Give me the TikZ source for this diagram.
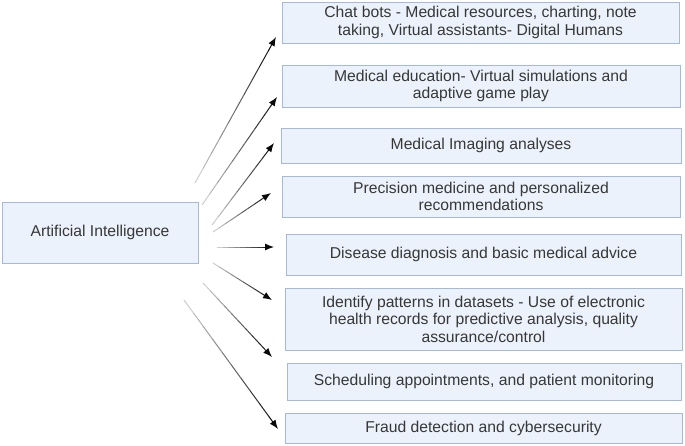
\documentclass[tikz,border=0pt]{standalone}
\usepackage{fontspec}
\setmainfont{Liberation Sans}
\usetikzlibrary{arrows.meta,calc}
\definecolor{boxfill}{RGB}{236,242,251}
\definecolor{boxline}{RGB}{165,185,222}
\definecolor{txt}{RGB}{55,55,55}
\tikzset{
  itembox/.style={draw=boxline, fill=boxfill, line width=1pt, inner sep=2pt,
    align=center, text=txt, font=\fontsize{15.7}{17.5}\selectfont, anchor=center},
}
\newcommand{\gradarrow}[2]{%
  \foreach \i in {0,...,9}{%
    \pgfmathsetmacro{\shade}{20+\i*8.5}%
    \pgfmathsetmacro{\nx}{(\i+1)/10}%
    \ifnum\i<9
      \draw[line width=1pt, draw=black!\shade] ($(#1)!\i/10!(#2)$) -- ($(#1)!\nx!(#2)$);
    \else
      \draw[line width=1pt, draw=black!\shade, -{Latex[length=9pt,width=7pt]}] ($(#1)!\i/10!(#2)$) -- (#2);
    \fi
  }%
}
\begin{document}
\begin{tikzpicture}[x=1pt,y=-1pt]
\useasboundingbox (0,0) rectangle (685,445);
\node[itembox, minimum width=196pt, minimum height=61pt] (ai) at (100,232.5) {Artificial Intelligence};
\node[itembox, minimum width=397pt, minimum height=41pt] (b1) at (480.5,22.5) {Chat bots - Medical resources, charting, note\\taking, Virtual assistants- Digital Humans};
\node[itembox, minimum width=398pt, minimum height=42pt] (b2) at (481,86) {Medical education- Virtual simulations and\\adaptive game play};
\node[itembox, minimum width=400pt, minimum height=35pt] (b3) at (481,145.5) {Medical Imaging analyses};
\node[itembox, minimum width=398pt, minimum height=41pt] (b4) at (481,196.5) {Precision medicine and personalized\\recommendations};
\node[itembox, minimum width=395pt, minimum height=41pt] (b5) at (483.5,254.5) {Disease diagnosis and basic medical advice};
\node[itembox, minimum width=397pt, minimum height=62pt] (b6) at (483.5,319) {Identify patterns in datasets - Use of electronic\\health records for predictive analysis, quality\\assurance/control};
\node[itembox, minimum width=394pt, minimum height=37pt] (b7) at (484,381.5) {Scheduling appointments, and patient monitoring};
\node[itembox, minimum width=397pt, minimum height=30pt] (b8) at (483.5,428) {Fraud detection and cybersecurity};

\coordinate (s1) at (195,183); \coordinate (t1) at (276,37);
\coordinate (s2) at (202,205); \coordinate (t2) at (277,97);
\coordinate (s3) at (212,225); \coordinate (t3) at (274,143);
\coordinate (s4) at (213,232); \coordinate (t4) at (271,193);
\coordinate (s5) at (217,247); \coordinate (t5) at (274,247);
\coordinate (s6) at (213,263); \coordinate (t6) at (272,300);
\coordinate (s7) at (203,283); \coordinate (t7) at (272,357);
\coordinate (s8) at (184,300); \coordinate (t8) at (278,429);
\gradarrow{s1}{t1}
\gradarrow{s2}{t2}
\gradarrow{s3}{t3}
\gradarrow{s4}{t4}
\gradarrow{s5}{t5}
\gradarrow{s6}{t6}
\gradarrow{s7}{t7}
\gradarrow{s8}{t8}
\end{tikzpicture}
\end{document}
